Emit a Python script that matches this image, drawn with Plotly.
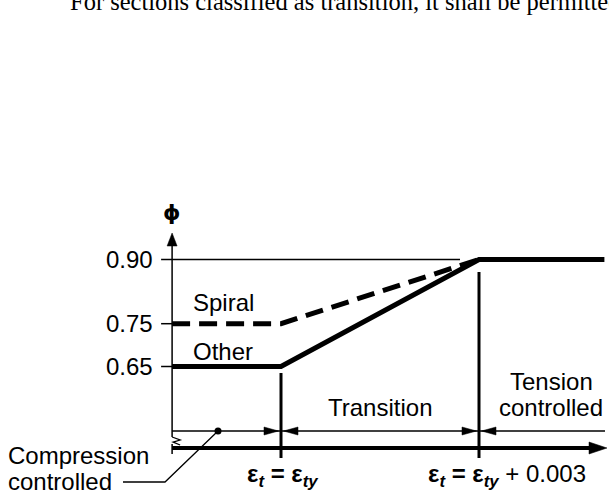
import plotly.graph_objects as go

# Strain limits (εty for Grade 60 reinforcement)
EPS_TY = 0.002
EPS_TC = EPS_TY + 0.003
X_START = 0.00035   # strain at the broken origin of the horizontal axis
X_END = 0.0069

# Strength reduction factor φ against net tensile strain εt
X_OTHER = [X_START, EPS_TY, EPS_TC, X_END]
PHI_OTHER = [0.65, 0.65, 0.90, 0.90]
X_SPIRAL = [X_START, EPS_TY, EPS_TC]
PHI_SPIRAL = [0.75, 0.75, 0.90]

TICK_VALUES = [0.90, 0.75, 0.65]
TICK_LABELS = ["0.90", "0.75", "0.65"]

SERIES_LABELS = ["Spiral", "Other"]
COMPRESSION_LINES = ["Compression", "controlled"]
TRANSITION_LABEL = "Transition"
TENSION_LINES = ["Tension", "controlled"]
STRAIN_LABELS = [
    "<b>ε<sub><i>t</i></sub> = ε<sub><i>ty</i></sub></b>",
    "<b>ε<sub><i>t</i></sub> = ε<sub><i>ty</i></sub></b> + 0.003",
]
HEADER_TEXT = "For sections classified as transition, it shall be permitted"

# ---- canvas / scale set-up ----
W, H = 609, 494
X_RANGE = [-0.0022576, 0.0069697]
Y_RANGE = [0.35210, 1.50631]
PX_X = (X_RANGE[1] - X_RANGE[0]) / W
PX_Y = (Y_RANGE[1] - Y_RANGE[0]) / H


def xp(px):
    return X_RANGE[0] + px * PX_X


def yp(py):
    return Y_RANGE[1] - py * PX_Y


PHI_AXIS = yp(448)     # level of the strain axis
PHI_ZONE = yp(431)     # level of the zone dimension arrows
SANS = "Liberation Sans, Arial, sans-serif"
INK = "black"

fig = go.Figure()

fig.add_trace(go.Scatter(x=X_SPIRAL, y=PHI_SPIRAL, mode="lines",
                         line=dict(color=INK, width=5, dash="18px,9px"),
                         hoverinfo="skip", showlegend=False))
fig.add_trace(go.Scatter(x=X_OTHER, y=PHI_OTHER, mode="lines",
                         line=dict(color=INK, width=5),
                         hoverinfo="skip", showlegend=False))

shapes = []


def seg(x0, y0, x1, y1, w):
    shapes.append(dict(type="line", x0=x0, y0=y0, x1=x1, y1=y1,
                       xref="x", yref="y", line=dict(color=INK, width=w),
                       layer="above"))


def tri(points):
    path = "M " + " L ".join(f"{x},{y}" for x, y in points) + " Z"
    shapes.append(dict(type="path", path=path, xref="x", yref="y",
                       fillcolor=INK, line=dict(color=INK, width=0.5),
                       layer="above"))


def polyline(points, w):
    shapes.append(dict(type="path",
                       path="M " + " L ".join(f"{x},{y}" for x, y in points),
                       xref="x", yref="y", line=dict(color=INK, width=w),
                       layer="above"))


# vertical φ axis with arrow and break mark
seg(X_START, yp(245), X_START, yp(437), 1.5)
seg(X_START, yp(444), X_START, yp(454), 1.5)
tri([(X_START, yp(233)), (X_START - 5 * PX_X, yp(246)),
     (X_START + 5 * PX_X, yp(246))])
polyline([(X_START, yp(437)), (X_START + 8 * PX_X, yp(440)),
          (X_START + 1 * PX_X, yp(442)), (X_START + 8 * PX_X, yp(445))], 1.3)

# ticks and the 0.90 reference line
for v in TICK_VALUES:
    seg(X_START - 11 * PX_X, v, X_START, v, 1.5)
seg(X_START, 0.90, xp(460), 0.90, 1.5)

# strain axis with arrow
seg(X_START, PHI_AXIS, xp(592), PHI_AXIS, 4)
tri([(xp(607), PHI_AXIS), (xp(589), PHI_AXIS + 6 * PX_Y),
     (xp(589), PHI_AXIS - 6 * PX_Y)])

# zone dimension line with arrowheads at the strain limits
seg(X_START, PHI_ZONE, xp(605), PHI_ZONE, 1.3)
for xs in (EPS_TY, EPS_TC):
    for side in (-1, 1):
        tip = xs + side * 2.5 * PX_X
        base = xs + side * 17 * PX_X
        tri([(tip, PHI_ZONE), (base, PHI_ZONE + 4 * PX_Y),
             (base, PHI_ZONE - 4 * PX_Y)])

# strain limit markers
seg(EPS_TY, yp(373), EPS_TY, yp(458), 3)
seg(EPS_TC, yp(272), EPS_TC, yp(458), 3)

# leader for the compression-controlled label
polyline([(xp(218), PHI_ZONE), (xp(165), yp(482)), (xp(123), yp(482))], 1.3)
fig.add_trace(go.Scatter(x=[xp(218)], y=[PHI_ZONE], mode="markers",
                         marker=dict(color=INK, size=7),
                         hoverinfo="skip", showlegend=False))

ann = []


def label(text, x, y, size=24, xanchor="center", yanchor="middle",
          xshift=0, yshift=0, align="center", family=SANS, xref="x", yref="y"):
    ann.append(dict(text=text, x=x, y=y, xref=xref, yref=yref,
                    xanchor=xanchor, yanchor=yanchor, xshift=xshift,
                    yshift=yshift, showarrow=False, align=align,
                    font=dict(family=family, size=size, color=INK)))


label("<b>ϕ</b>", X_START, yp(212), size=22,
      family="DejaVu Sans, Liberation Sans, sans-serif")
for v, t in zip(TICK_VALUES, TICK_LABELS):
    label(t, X_START, v, xanchor="right", xshift=-17)
label(SERIES_LABELS[0], xp(191), yp(302), xanchor="left")
label(SERIES_LABELS[1], xp(191), yp(351), xanchor="left")
label(COMPRESSION_LINES[0], xp(6), yp(455), xanchor="left")
label(COMPRESSION_LINES[1], xp(6), yp(481), xanchor="left")
label(TRANSITION_LABEL, (EPS_TY + EPS_TC) / 2, yp(407))
label(TENSION_LINES[0], xp(551), yp(381))
label(TENSION_LINES[1], xp(551), yp(407))
label(STRAIN_LABELS[0], EPS_TY, yp(475), xanchor="left", xshift=-36)
label(STRAIN_LABELS[1], EPS_TC, yp(475), xanchor="left", xshift=-53)
label(HEADER_TEXT, 68 / W, 1 - 17.5 / H, size=24.5, xanchor="left",
      yanchor="bottom", family="Liberation Serif, Times New Roman, serif",
      xref="paper", yref="paper")

fig.update_layout(
    width=W, height=H,
    margin=dict(l=0, r=0, t=0, b=0),
    paper_bgcolor="white", plot_bgcolor="white",
    xaxis=dict(range=X_RANGE, visible=False, fixedrange=True),
    yaxis=dict(range=Y_RANGE, visible=False, fixedrange=True),
    shapes=shapes, annotations=ann, showlegend=False,
)

fig.write_html("out.html", config=dict(displayModeBar=False))
